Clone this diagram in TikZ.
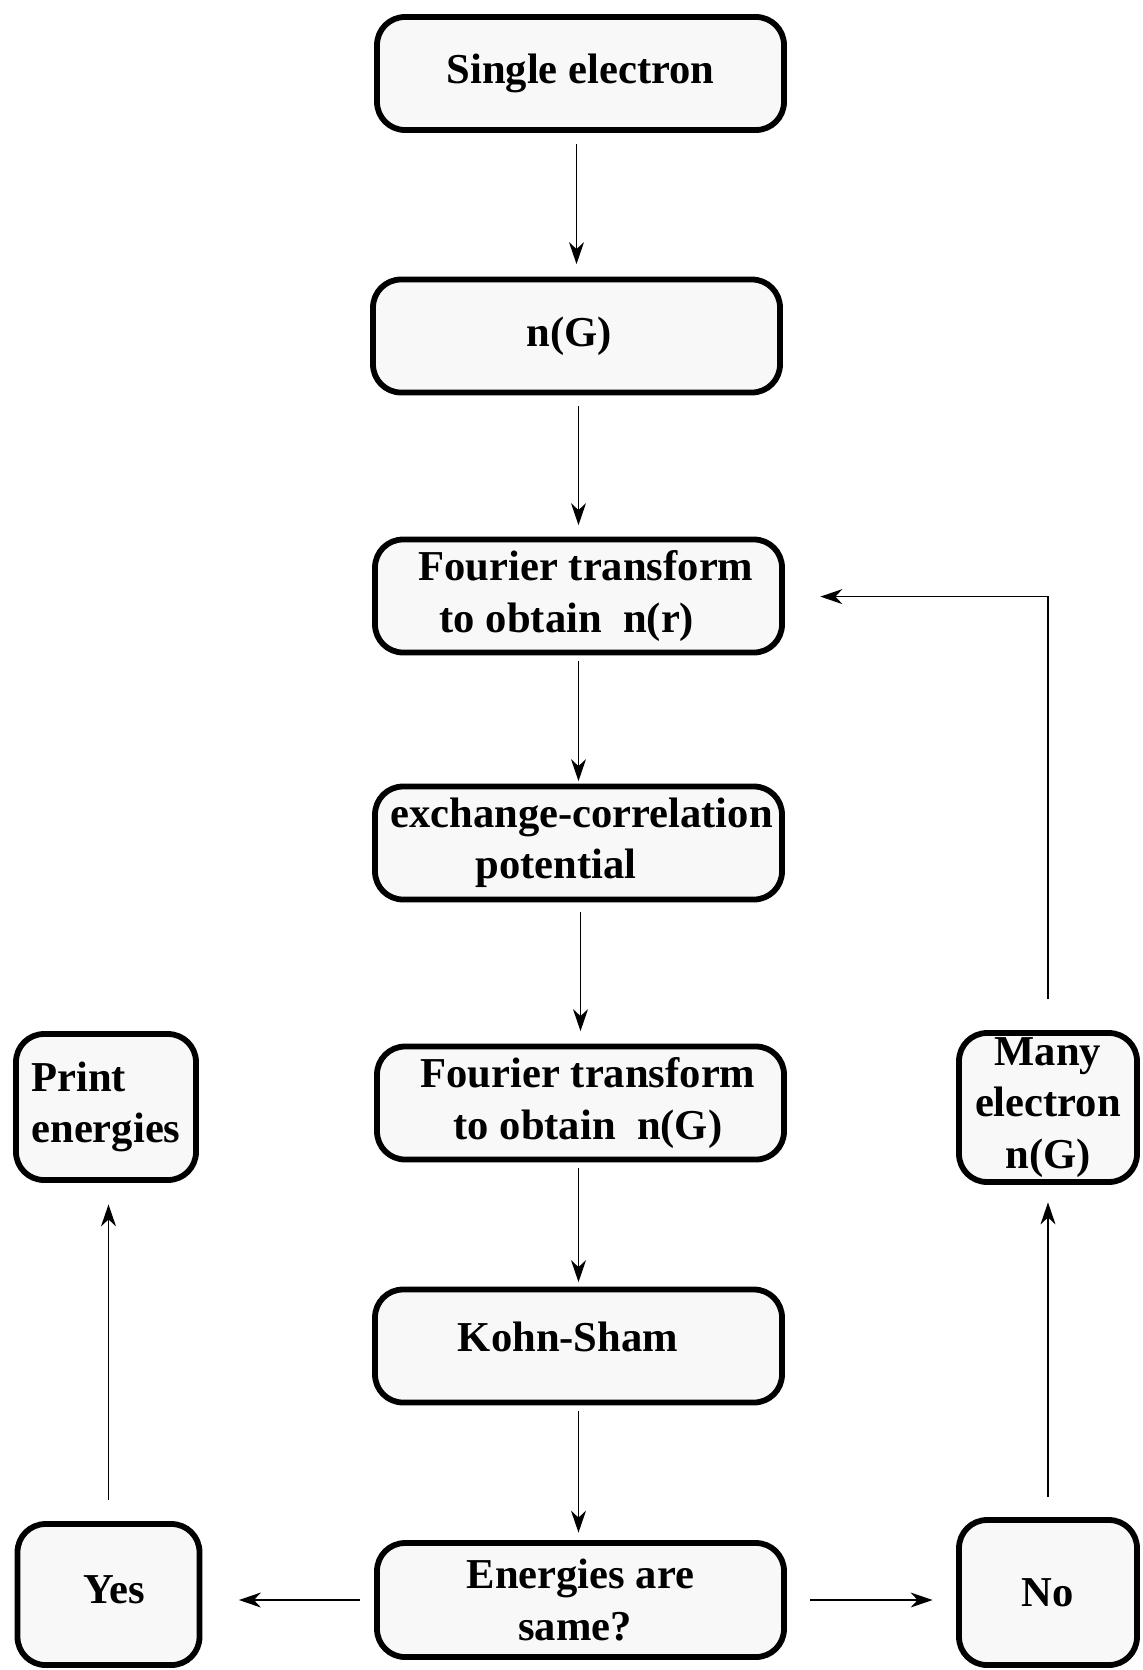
\documentclass[tikz,border=0pt]{standalone}
\usepackage{fontspec}
\setmainfont{Liberation Serif}
\usetikzlibrary{arrows.meta,calc}
\definecolor{boxfill}{HTML}{F8F8F8}
\newcommand\padR[2]{#1\rule{#2}{0pt}}
\newcommand\padL[2]{\rule{#2}{0pt}#1}
\tikzset{
  box/.style={draw=black, line width=2.9pt, fill=boxfill, rounded corners=14pt,
    minimum width=203.5pt, minimum height=56.5pt, inner sep=0pt, align=center,
    font=\fontsize{21.3}{25.6}\selectfont\bfseries},
  smallbox/.style={box, minimum width=90pt, minimum height=73pt},
  conn/.style={line width=0.65pt, -{Stealth[length=11pt,width=7.5pt,inset=3.5pt]}}
}
\begin{document}
\begin{tikzpicture}[x=0.5pt,y=-0.5pt]
\useasboundingbox (0,0) rectangle (1142,1670);
\node[box] (b1) at (580.5,73.5) {Single electron};
\node[box] (b2) at (576.5,336) {\padR{n(G)}{7.5pt}};
\node[box] (b3) at (578.5,596) {\padL{Fourier transform}{7.5pt}\\ \padR{to obtain\ \ n(r)}{11.5pt}};
\node[box] (b4) at (578.5,843) {\padL{exchange-correlation}{3pt}\\ \padR{potential}{22.5pt}};
\node[box] (b5) at (580.5,1103) {\padL{Fourier transform}{7.5pt}\\ \padL{to obtain\ \ n(G)}{7.5pt}};
\node[box] (b6) at (578.5,1346) {\raisebox{9pt}{\padR{Kohn-Sham}{10.5pt}}};
\node[box, minimum height=57pt] (b7) at (580.5,1600) {Energies are\\ \padR{same?}{5.5pt}};
\node[smallbox, align=left] (pe) at (106,1107) {Print\\energies};
\node[smallbox, minimum width=89pt, minimum height=74.5pt] (many) at (1048,1107.5) {Many\\electron\\n(G)};
\node[smallbox, minimum width=91pt, minimum height=70.5pt] (yes) at (108.5,1594.5) {\raisebox{5pt}{\padL{Yes}{5.5pt}}};
\node[smallbox, minimum width=89pt, minimum height=72.5pt] (no) at (1048,1592.5) {No};

\draw[conn, shorten <=5.75pt, shorten >=6.25pt] (b2.north |- b1.south) -- (b2.north);
\draw[conn, shorten <=5.25pt, shorten >=5.75pt] (b3.north |- b2.south) -- (b3.north);
\draw[conn, shorten <=2.75pt, shorten >=1.25pt] (b3.south) -- (b4.north);
\draw[conn, shorten <=4.75pt, shorten >=6.25pt] (b5.north |- b4.south) -- (b5.north);
\draw[conn, shorten <=2.75pt, shorten >=2.25pt] (b6.north |- b5.south) -- (b6.north);
\draw[conn, shorten <=2.75pt, shorten >=3.75pt] (b6.south) -- (b6.south |- b7.north);
\draw[conn, shorten <=7.25pt, shorten >=18.25pt] (b7.west) -- (b7.west -| yes.east);
\draw[conn, shorten <=11.75pt, shorten >=11.75pt] (b7.east) -- (b7.east -| no.west);
\draw[conn, shorten <=10.75pt, shorten >=10.75pt] (yes.north) -- (yes.north |- pe.south);
\draw[conn, shorten <=10.25pt, shorten >=8.75pt] (no.north) -- (no.north |- many.south);
\coordinate (turn) at ($(many.north)+(0,-433.5)$);
\draw[conn, shorten <=15.75pt, shorten >=17.75pt] (many.north) -- (turn) -- (turn -| b3.east);
\end{tikzpicture}
\end{document}
